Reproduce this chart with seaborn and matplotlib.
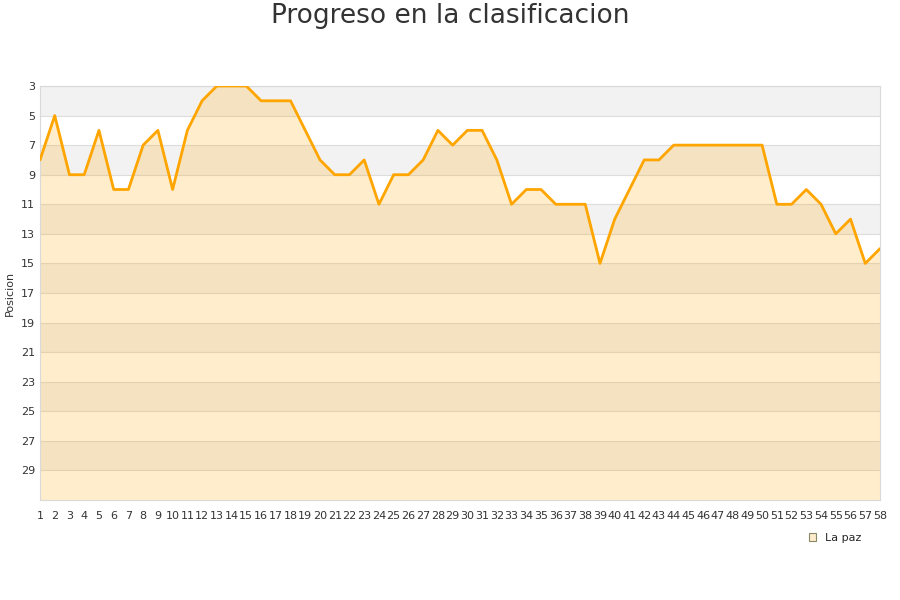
"""
Progreso en la clasificacion - La paz
"""

import numpy as np
import pandas as pd
import matplotlib
matplotlib.use("Agg")
import matplotlib.pyplot as plt
from matplotlib.patches import Patch
import seaborn as sns

# Data
jornadas = list(range(1, 59))
posiciones = [8, 5, 9, 9, 6, 10, 10, 7, 6, 10,
              6, 4, 3, 3, 3, 4, 4, 4, 6, 8,
              9, 9, 8, 11, 9, 9, 8, 6, 7, 6,
              6, 8, 11, 10, 10, 11, 11, 11, 15, 12,
              10, 8, 8, 7, 7, 7, 7, 7, 7, 7,
              11, 11, 10, 11, 13, 12, 15, 14]
equipo = "La paz"
y_ticks = list(range(3, 30, 2))

df = pd.DataFrame({"Jornada": jornadas, "Posicion": posiciones})

sns.set_style("white")
plt.rcParams['font.family'] = ['DejaVu Sans']

fig = plt.figure(figsize=(9, 6), dpi=100)
ax = fig.add_axes([40 / 900, 100 / 600, 840 / 900, 414 / 600])

y_min, y_max = 3, 31
# alternating bands
for i, lo in enumerate(range(y_min, y_max, 2)):
    if i % 2 == 0:
        ax.axhspan(lo, lo + 2, color="#f2f2f2", lw=0, zorder=0)
for t in range(y_min, y_max, 2):
    ax.axhline(t, color="#dddddd", lw=0.8, zorder=1)

ax.fill_between(df["Jornada"], df["Posicion"], y_max, color="#ffa500",
                alpha=0.2, lw=0, zorder=2)
sns.lineplot(data=df, x="Jornada", y="Posicion", ax=ax, color="#ffa500",
             lw=2, zorder=3)

ax.set_xlim(1, 58)
ax.set_ylim(y_max, y_min)
ax.set_yticks(y_ticks)
ax.set_xticks(jornadas)
ax.tick_params(axis="both", labelsize=8, colors="#333333", length=0)
ax.tick_params(axis="x", pad=8)
ax.set_xlabel("")
ax.set_ylabel("Posicion", fontsize=8, color="#333333", labelpad=4)
for s in ax.spines.values():
    s.set_color("#d9d9d9")
    s.set_linewidth(0.8)

fig.suptitle("Progreso en la clasificacion", fontsize=19, color="#333333",
             y=0.995)

handle = Patch(facecolor="#feeccc", edgecolor="#888866", lw=0.8, label=equipo)
fig.legend(handles=[handle], loc="center", bbox_to_anchor=(0.928, 0.103),
           frameon=False, fontsize=8, handlelength=0.7, handleheight=0.7,
           handletextpad=0.8)

fig.savefig("out.png", dpi=100)
